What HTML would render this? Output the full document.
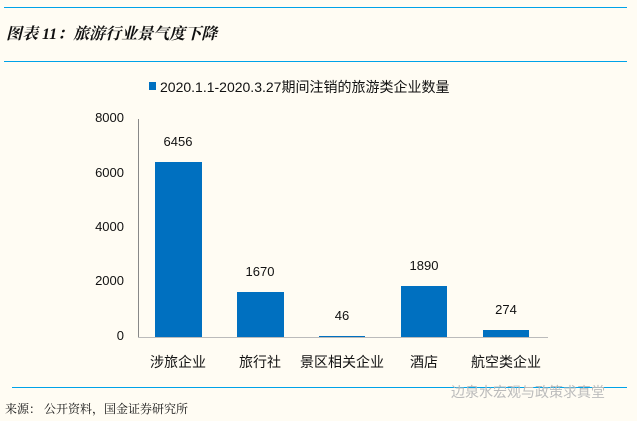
<!DOCTYPE html>
<html><head><meta charset="utf-8"><style>
html,body{margin:0;padding:0;background:#fffcf3;}
body{width:637px;height:421px;position:relative;overflow:hidden;font-family:"Liberation Sans","Noto Sans CJK SC",sans-serif;}
.t{position:absolute;white-space:nowrap;color:#111;}
.bar{position:absolute;background:#0070c0;}
.ln{position:absolute;height:1px;background:#00a2e8;}
</style></head><body>
<div class="ln" style="left:4px;top:7px;width:623px"></div>
<div class="ln" style="left:4px;top:61px;width:623px"></div>
<div class="t" style="left:6px;top:21px;font-size:16px;font-style:italic;font-weight:bold;font-family:'Liberation Serif','Noto Serif CJK SC',serif">图表 11：旅游行业景气度下降</div>
<div style="position:absolute;left:149px;top:82px;width:7px;height:8px;background:#0070c0"></div>
<div class="t" style="left:160px;top:77px;font-size:14px">2020.1.1-2020.3.27期间注销的旅游类企业数量</div>
<div style="position:absolute;left:138px;top:119px;width:1px;height:218px;background:#888"></div>
<div style="position:absolute;left:138px;top:337px;width:410px;height:1px;background:#bbb"></div>
<div class="t" style="left:84px;top:110px;font-size:13px;width:40px;text-align:right">8000</div>
<div class="t" style="left:84px;top:165px;font-size:13px;width:40px;text-align:right">6000</div>
<div class="t" style="left:84px;top:219px;font-size:13px;width:40px;text-align:right">4000</div>
<div class="t" style="left:84px;top:273px;font-size:13px;width:40px;text-align:right">2000</div>
<div class="t" style="left:84px;top:328px;font-size:13px;width:40px;text-align:right">0</div>
<div class="bar" style="left:155px;top:162px;width:47px;height:175px"></div>
<div class="bar" style="left:237px;top:292px;width:47px;height:45px"></div>
<div class="bar" style="left:319px;top:336px;width:46px;height:1px"></div>
<div class="bar" style="left:401px;top:286px;width:46px;height:51px"></div>
<div class="bar" style="left:483px;top:330px;width:46px;height:7px"></div>
<div class="t" style="left:138px;top:134px;width:80px;text-align:center;font-size:13px">6456</div>
<div class="t" style="left:220px;top:264px;width:80px;text-align:center;font-size:13px">1670</div>
<div class="t" style="left:302px;top:308px;width:80px;text-align:center;font-size:13px">46</div>
<div class="t" style="left:384px;top:258px;width:80px;text-align:center;font-size:13px">1890</div>
<div class="t" style="left:466px;top:302px;width:80px;text-align:center;font-size:13px">274</div>
<div class="t" style="left:128px;top:352px;width:100px;text-align:center;font-size:14px">涉旅企业</div>
<div class="t" style="left:210px;top:352px;width:100px;text-align:center;font-size:14px">旅行社</div>
<div class="t" style="left:292px;top:352px;width:100px;text-align:center;font-size:14px">景区相关企业</div>
<div class="t" style="left:374px;top:352px;width:100px;text-align:center;font-size:14px">酒店</div>
<div class="t" style="left:456px;top:352px;width:100px;text-align:center;font-size:14px">航空类企业</div>
<div class="ln" style="left:12px;top:387px;width:615px"></div>
<div class="t" style="left:451px;top:382px;font-size:14px;color:#bbb">边泉水宏观与政策求真堂</div>
<div class="t" style="left:5px;top:400px;font-size:12px;font-family:'Liberation Serif','Noto Serif CJK SC',serif">来源： 公开资料，国金证券研究所</div>
</body></html>
